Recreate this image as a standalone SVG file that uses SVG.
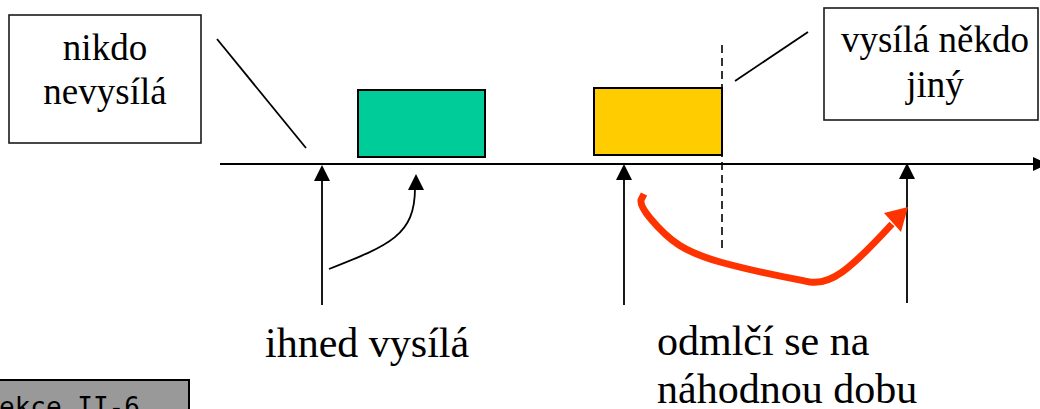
<svg xmlns="http://www.w3.org/2000/svg" width="1040" height="409" viewBox="0 0 1040 409">
<style>
.box{fill:#fff;stroke:#1a1a1a;stroke-width:1.6}
.lbl{fill:#000;text-anchor:middle}
.big{font-size:42px;fill:#000}
.ser{font-family:"Times New Roman",Tinos,"Liberation Serif","Noto Serif","DejaVu Serif",FreeSerif,serif}
.ln{stroke:#000;stroke-width:1.8;fill:none}
.ah{fill:#000}
</style>
<rect width="1040" height="409" fill="#fff"/>
<g id="box-nikdo">
<rect class="box" x="9" y="15" width="192" height="128"/>
<text class="lbl ser" x="105" y="60" font-size="37">nikdo</text>
<text class="lbl ser" x="105" y="104" font-size="37">nevysílá</text>
</g>
<g id="box-jiny">
<rect class="box" x="824" y="8" width="214" height="112"/>
<text class="lbl ser" x="935" y="52" font-size="37">vysílá někdo</text>
<text class="lbl ser" x="935" y="97" font-size="37">jiný</text>
</g>
<g id="frame-green">
<rect x="358" y="90" width="127" height="67" fill="#00CC99" stroke="#000" stroke-width="2"/>
</g>
<g id="frame-yellow">
<rect x="594" y="88" width="128" height="67" fill="#FFCC00" stroke="#000" stroke-width="2"/>
</g>
<g id="label-ihned">
<text class="big ser" x="265" y="357">ihned vysílá</text>
</g>
<g id="label-odmlci">
<text class="big ser" x="657" y="355">odmlčí se na</text>
<text class="big ser" x="657" y="403">náhodnou dobu</text>
</g>
<g id="slide-tag">
<rect x="-2" y="380" width="191" height="40" fill="#999999" stroke="#000" stroke-width="2"/>
<text x="-1" y="416" font-family="'DejaVu Sans Mono', monospace" font-size="26" fill="#000">ekce II-6</text>
</g>
<g id="connectors">
<line class="ln" x1="220" y1="164" x2="1034" y2="164" stroke-width="2"/>
<polygon class="ah" points="1048,164 1033,157 1033,171"/>
<line class="ln" x1="217" y1="39" x2="306" y2="148" stroke-width="1.6"/>
<line class="ln" x1="735" y1="81" x2="808" y2="32" stroke-width="1.6"/>
<line x1="722" y1="45" x2="722" y2="250" stroke="#000" stroke-width="1.6" stroke-dasharray="8,5"/>
<line class="ln" x1="322" y1="305" x2="322" y2="178"/>
<polygon class="ah" points="322,165 314,181 330,181"/>
<line class="ln" x1="624" y1="305" x2="624" y2="178"/>
<polygon class="ah" points="624,164 616,180 632,180"/>
<line class="ln" x1="907" y1="303" x2="907" y2="178"/>
<polygon class="ah" points="907,163 899,179 915,179"/>
<path class="ln" d="M329,269 C390,245 415,235 415,188"/>
<polygon class="ah" points="416,174 408,190 424,190"/>
<path d="M644,194 L641,200 Q640,206 650,218 C670,242 685,252 720,262 C760,273 790,278 810,282 C830,285 848,272 892,224" fill="none" stroke="#FF3300" stroke-width="7" stroke-linejoin="round"/>
<polygon points="908,207 884,213 901,232" fill="#FF3300"/>
</g>
</svg>
